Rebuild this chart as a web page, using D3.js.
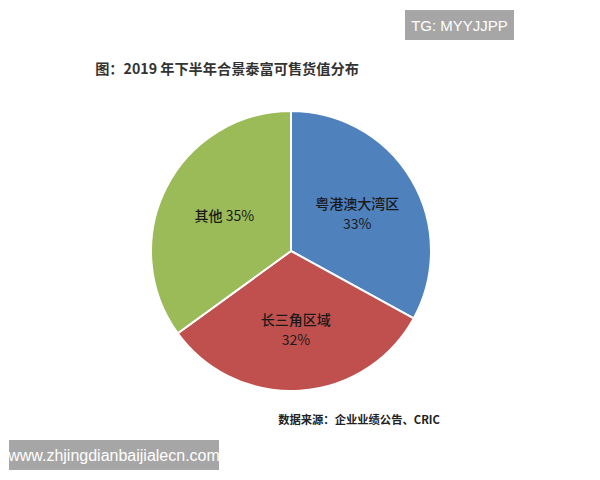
<!DOCTYPE html>
<html><head><meta charset="utf-8">
<script src="https://cdn.jsdelivr.net/npm/d3@7"></script>
<style>body{margin:0;background:#fff;}svg{display:block;}</style>
</head><body>
<script>
const categories = ["粤港澳大湾区", "长三角区域", "其他"];
const values = [33, 32, 35];
const colors = ["#4F81BD", "#C0504D", "#9BBB59"];
const title = "图：2019 年下半年合景泰富可售货值分布";
const source = "数据来源：企业业绩公告、CRIC";

const W = 600, H = 480;
const svg = d3.select("body").append("svg").attr("width", W).attr("height", H);
const font = "'Noto Sans CJK SC', 'Noto Sans', sans-serif";

svg.append("text").attr("x", 227).attr("y", 74).attr("text-anchor", "middle")
  .attr("font-family", font).attr("font-size", 14.2).attr("font-weight", "bold")
  .attr("fill", "#333").text(title);

const cx = 291, cy = 251, r = 140;
const data = categories.map((c, i) => ({cat: c, val: values[i], color: colors[i]}));
const pie = d3.pie().value(d => d.val).sort(null);
const arc = d3.arc().innerRadius(0).outerRadius(r);
const g = svg.append("g").attr("transform", `translate(${cx},${cy})`);
const arcs = pie(data);
g.selectAll("path").data(arcs).enter().append("path")
  .attr("d", arc).attr("fill", d => d.data.color)
  .attr("stroke", "#fff").attr("stroke-width", 2);

const labelArc = d3.arc().innerRadius(r * 0.55).outerRadius(r * 0.55);
arcs.forEach((a, i) => {
  const [x, y] = labelArc.centroid(a);
  if (a.data.cat === "其他") {
    const t = g.append("text").attr("x", x + 2).attr("y", y + 5).attr("text-anchor", "middle")
      .attr("font-family", font).attr("font-size", 14).attr("fill", "#1a1a1a");
    t.append("tspan").attr("font-weight", 500).text(a.data.cat + " ");
    t.append("tspan").text(a.data.val + "%");
  } else {
    g.append("text").attr("x", x).attr("y", y - 3).attr("text-anchor", "middle")
      .attr("font-family", font).attr("font-size", 14).attr("font-weight", 500).attr("fill", "#1a1a1a")
      .text(a.data.cat);
    g.append("text").attr("x", x).attr("y", y + 17).attr("text-anchor", "middle")
      .attr("font-family", font).attr("font-size", 14).attr("fill", "#1a1a1a")
      .text(a.data.val + "%");
  }
});

svg.append("text").attr("x", 440).attr("y", 424).attr("text-anchor", "end")
  .attr("font-family", font).attr("font-size", 11.3).attr("font-weight", "bold")
  .attr("fill", "#222").text(source);

svg.append("rect").attr("x", 405).attr("y", 10).attr("width", 109).attr("height", 30).attr("fill", "#a6a6a6");
svg.append("text").attr("x", 459.5).attr("y", 31).attr("text-anchor", "middle")
  .attr("font-family", "Arial, 'Liberation Sans', sans-serif").attr("font-size", 15)
  .attr("fill", "#fff").text("TG: MYYJJPP");

svg.append("rect").attr("x", 9).attr("y", 440).attr("width", 210).attr("height", 30).attr("fill", "#a6a6a6");
svg.append("text").attr("x", 114).attr("y", 461).attr("text-anchor", "middle")
  .attr("font-family", "Arial, 'Liberation Sans', sans-serif").attr("font-size", 16)
  .attr("fill", "#fff").text("www.zhjingdianbaijialecn.com");
</script>
</body></html>
